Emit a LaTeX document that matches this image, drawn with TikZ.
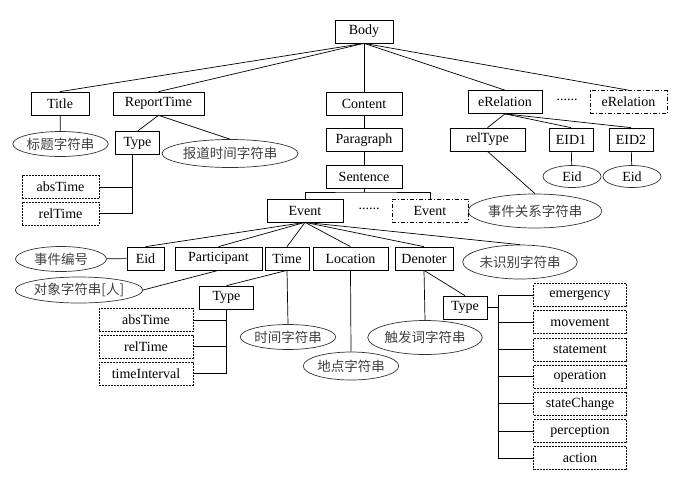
\documentclass[tikz,border=0pt]{standalone}
\usepackage{fontspec}
\setmainfont{Liberation Serif}
\newfontfamily\cjk{Noto Sans CJK SC}
\usetikzlibrary{shapes.geometric,positioning}

\begin{document}
\begin{tikzpicture}
	[x=1pt,y=-1pt,line width=0.7pt,
		base node/.style={draw,rectangle,minimum height=23pt,inner sep=0pt,font=\fontsize{14}{16}\selectfont},
		opt node/.style={base node,dash pattern=on 2pt off 1pt},
		more node/.style={base node,dash pattern=on 4pt off 2pt on 1pt off 2pt},
		str node/.style={draw=black!80,ellipse,inner sep=0pt,text=black!75,font=\cjk\fontsize{13.5}{15}\selectfont}]

	\useasboundingbox (0,0) rectangle (693,491);

	% top levels
	\node[base node,minimum width=58pt] (body) at (364,31.5) {Body};
	\node[base node,minimum width=58pt] (title) at (60,103.5) {Title};
	\node[base node,minimum width=91pt] (report) at (158.5,103.5) {ReportTime};
	\node[base node,minimum width=76pt] (content) at (364,103.5) {Content};
	\node[base node,minimum width=74pt] (erel) at (505,102) {eRelation};
	\node[font=\fontsize{14}{16}\selectfont] (dots1) at (567,100) {......};
	\node[more node,minimum width=77pt] (erel2) at (628.5,102) {eRelation};

	\node[base node,minimum width=76pt,below=13pt of content] (para) {Paragraph};
	\node[base node,minimum width=76pt,below=13pt of para] (sent) {Sentence};

	% Title / ReportTime
	\node[str node,minimum width=91pt,minimum height=25pt] (titlestr) at (60.5,144) {标题字符串};
	\node[base node,minimum width=44pt] (rtype) at (137.5,143) {Type};
	\node[str node,minimum width=136pt,minimum height=28pt] (reportstr) at (230,153.5) {报道时间字符串};
	\node[opt node,minimum width=77pt] (abs1) at (60.5,187) {absTime};
	\node[opt node,minimum width=77pt,below=3pt of abs1] (rel1) {relTime};

	% eRelation
	\node[base node,minimum width=75pt] (reltype) at (487.5,139.5) {relType};
	\node[base node,minimum width=44pt] (eid1) at (571,139.5) {EID1};
	\node[base node,minimum width=44pt] (eid2) at (631,139.5) {EID2};
	\node[str node,minimum width=58pt,minimum height=22pt,text=black,font=\fontsize{14}{16}\selectfont] (eidstr1) at (572,176.5) {Eid};
	\node[str node,minimum width=58pt,minimum height=22pt,text=black,font=\fontsize{14}{16}\selectfont] (eidstr2) at (632,176.5) {Eid};
	\node[str node,minimum width=126pt,minimum height=34pt] (relstr) at (535,211) {事件关系字符串};

	% Event
	\node[base node,minimum width=76pt] (event) at (305,210.5) {Event};
	\node[font=\fontsize{14}{16}\selectfont] (dots2) at (369,209) {......};
	\node[more node,minimum width=76pt] (event2) at (430,210.5) {Event};
	\coordinate (split) at (364,192);

	\node[base node,minimum width=37pt] (eid) at (145.5,258.5) {Eid};
	\node[base node,minimum width=87pt] (part) at (218.5,258.5) {Participant};
	\node[base node,minimum width=44pt] (time) at (287,258.5) {Time};
	\node[base node,minimum width=75pt] (loc) at (350.5,258.5) {Location};
	\node[base node,minimum width=58pt] (denot) at (424,258.5) {Denoter};
	\node[str node,minimum width=106pt,minimum height=34pt] (unkstr) at (520,262) {未识别字符串};
	\node[str node,minimum width=91pt,minimum height=25pt] (eidstr) at (61,259) {事件编号};
	\node[str node,minimum width=126pt,minimum height=26pt] (partstr) at (79,290) {对象字符串[人]};

	% Time
	\node[base node,minimum width=54pt] (ttype) at (226.5,297.5) {Type};
	\node[str node,minimum width=90pt,minimum height=25pt] (timestr) at (288,337) {时间字符串};
	\node[opt node,minimum width=94pt] (abs2) at (146,320) {absTime};
	\node[opt node,minimum width=94pt,below=3pt of abs2] (rel2) {relTime};
	\node[opt node,minimum width=94pt,below=3pt of rel2] (intv) {timeInterval};

	% Location / Denoter
	\node[str node,minimum width=90pt,minimum height=28pt] (locstr) at (351,366) {地点字符串};
	\node[str node,minimum width=106pt,minimum height=34pt] (denstr) at (425,337.5) {触发词字符串};
	\node[base node,minimum width=44pt] (dtype) at (465,307.5) {Type};

	\node[opt node,minimum width=93pt] (emergency) at (580,295) {emergency};
	\node[opt node,minimum width=93pt,below=3.5pt of emergency] (movement) {movement};
	\node[opt node,minimum width=93pt,below=3.5pt of movement] (statement) {statement};
	\node[opt node,minimum width=93pt,below=3.5pt of statement] (operation) {operation};
	\node[opt node,minimum width=93pt,below=3.5pt of operation] (statechange) {stateChange};
	\node[opt node,minimum width=93pt,below=3.5pt of statechange] (perception) {perception};
	\node[opt node,minimum width=93pt,below=3.5pt of perception] (action) {action};

	\path[]
	(body.south) edge (title.north)
		edge (report.north)
		edge (content.north)
		edge (erel.north)
		edge (erel2.north)
	(content) edge (para)
	(para) edge (sent)
	(title) edge (titlestr)
	(report.south) edge (rtype.north)
		edge (reportstr.north)
	(erel.south) edge (reltype.north)
		edge (eid1.north)
		edge (eid2.north)
	(reltype.south) edge (relstr.north)
	(eid1) edge (eidstr1)
	(eid2) edge (eidstr2)
	(event.south) edge (eid.north)
		edge (part.north)
		edge (time.north)
		edge (loc.north)
		edge (denot.north)
		edge (unkstr.north)
	(eidstr) edge (eid)
	(part.south) edge (partstr.east)
	(time.south) edge (ttype.north)
		edge (timestr.north)
	(loc.south) edge (locstr.north)
	(denot.south) edge (denstr.north)
		edge (dtype.north)
	;

	\draw (sent.south) -- (split);
	\draw (event.north) |- (split) -| (event2.north);

	\draw ([xshift=-5pt]rtype.south) |- (abs1.east);
	\draw ([xshift=-5pt]rtype.south) |- (rel1.east);

	\draw (ttype.south) |- (abs2.east);
	\draw (ttype.south) |- (rel2.east);
	\draw (ttype.south) |- (intv.east);

	\draw (dtype.east) -- ++(11,0) coordinate (dbar);
	\draw (dbar |- emergency.west) -- (dbar |- action.west);
	\draw (dbar |- emergency.west) -- (emergency.west);
	\draw (dbar |- movement.west) -- (movement.west);
	\draw (dbar |- statement.west) -- (statement.west);
	\draw (dbar |- operation.west) -- (operation.west);
	\draw (dbar |- statechange.west) -- (statechange.west);
	\draw (dbar |- perception.west) -- (perception.west);
	\draw (dbar |- action.west) -- (action.west);

\end{tikzpicture}
\end{document}
